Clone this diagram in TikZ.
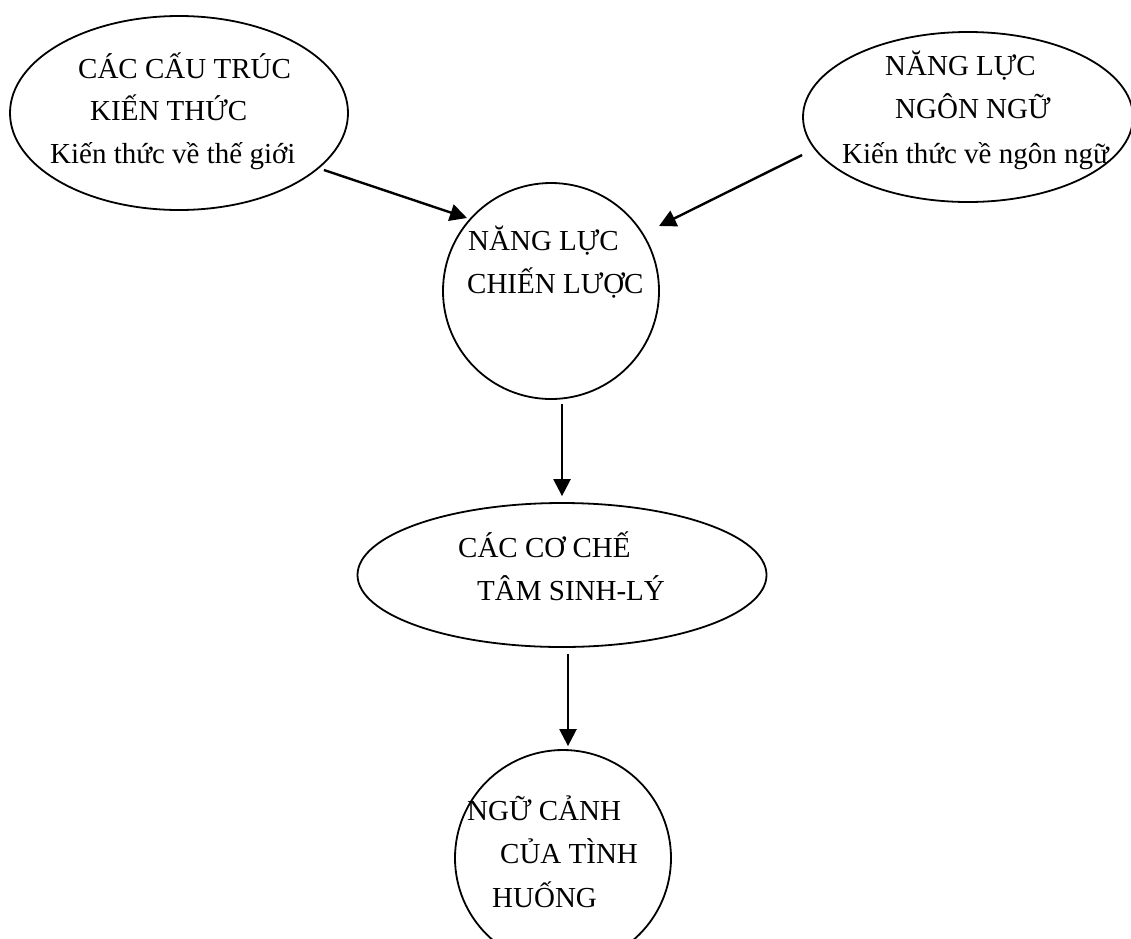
\documentclass[tikz,border=0pt]{standalone}
\usepackage{fontspec}
\setmainfont{Liberation Serif}
\usetikzlibrary{shapes.geometric,arrows.meta}
\tikzset{
  shapebox/.style={draw, line width=1.8pt, ellipse, inner sep=0pt},
  lbl/.style={anchor=base west, inner sep=0pt, font=\fontsize{29}{35}\selectfont},
  arr/.style={line width=2.4pt, -{Triangle[length=17pt,width=17pt]}}
}
\begin{document}
\begin{tikzpicture}[x=1pt,y=-1pt]
\useasboundingbox (0,0) rectangle (1131,938);
% shapes
\node[shapebox, minimum width=338pt, minimum height=194pt] (e1) at (179,113) {};
\node[shapebox, minimum width=330pt, minimum height=170pt] (e2) at (968,117) {};
\node[shapebox, minimum width=216pt, minimum height=216pt] (c1) at (551,291) {};
\node[shapebox, minimum width=409pt, minimum height=144pt] (e3) at (562,575) {};
\node[shapebox, minimum width=216pt, minimum height=216pt] (c2) at (563,858) {};
% texts
\node[lbl] (t11) at (78,78) {CÁC CẤU TRÚC};
\node[lbl] (t12) at (90,120) {KIẾN THỨC};
\node[lbl] (t13) at (50,163) {Kiến thức về thế giới};
\node[lbl] (t21) at (885,75) {NĂNG LỰC};
\node[lbl] (t22) at (895,118) {NGÔN NGỮ};
\node[lbl] (t23) at (842,163) {Kiến thức về ngôn ngữ};
\node[lbl] (t31) at (468,250) {NĂNG LỰC};
\node[lbl] (t32) at (467,293) {CHIẾN LƯỢC};
\node[lbl] (t41) at (458,557) {CÁC CƠ CHẾ};
\node[lbl] (t42) at (477,600) {TÂM SINH-LÝ};
\node[lbl] (t51) at (467,820) {NGỮ CẢNH};
\node[lbl] (t52) at (500,863) {CỦA TÌNH};
\node[lbl] (t53) at (492,907) {HUỐNG};
% connectors
\draw[arr] ([xshift=-25pt,yshift=-57pt]e1.east) -- ([xshift=-84pt,yshift=73pt]c1.center);
\draw[arr] ([yshift=-38pt]e2.west) -- ([xshift=108pt,yshift=65pt]c1.center);
\draw[arr] ([yshift=-4pt]c1.south -| e3.north) -- ([yshift=6pt]e3.north);
\draw[arr] ([xshift=6pt,yshift=-6pt]e3.south) -- ([xshift=5pt,yshift=3pt]c2.north);
\end{tikzpicture}
\end{document}
